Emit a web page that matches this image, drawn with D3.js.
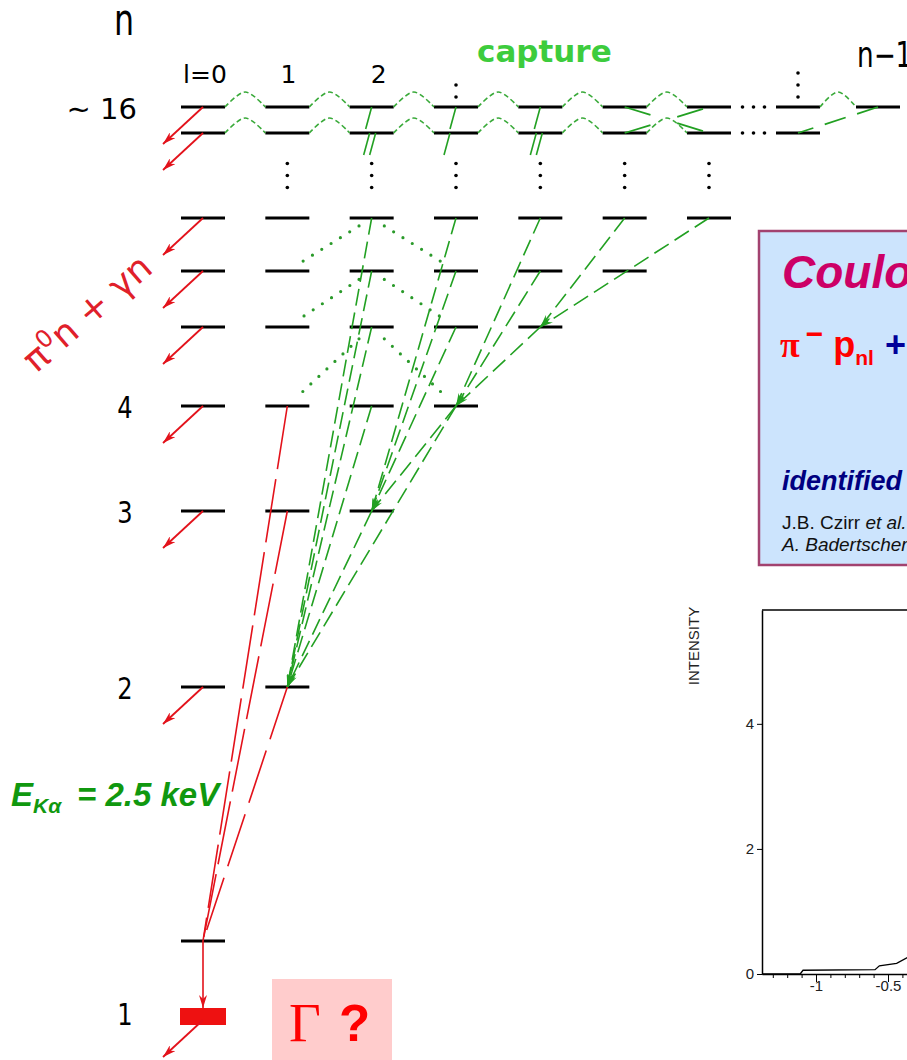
<!DOCTYPE html>
<html>
<head>
<meta charset="utf-8">
<script src="https://cdn.jsdelivr.net/npm/d3@7"></script>
<style>
html, body { margin: 0; padding: 0; background: #fff; overflow: hidden; }
svg { display: block; }
</style>
</head>
<body>
<div id="chart"></div>
<script>
// rows of the level scheme (principal quantum number n) and highest l column drawn
// (column 7 = "n-2", column 8 = "n-1")
var rowN = [16, 15, 7, 6, 5, 4, 3, 2, 1];
var rowTopCol = [8, 7, 6, 5, 4, 3, 2, 1, 0];
var rowLabels = ["\u223c 16", "", "", "", "", "4", "3", "2", ""];
var colLabels = ["l=0", "1", "2"];

// capture region: dashed waves between neighbouring l, [n, from column]
var waves = [[16,0],[16,1],[16,2],[16,3],[16,4],[16,5],[16,7],
             [15,0],[15,1],[15,2],[15,3],[15,4],[15,5]];
// l-changing transitions at capture [n1, l1, n2, l2]
var captureCross = [[16,5,15,6],[15,5,16,6],[16,8,15,7]];
// beginnings of the cascade below the capture levels [n, l, offset]
var captureStubs = [[16,2,0],[15,2,-2],[15,2,4],[16,3,0],[15,3,-6],[16,4,0],[15,4,-4],[15,4,2]];

// radiative cascade (green dashed) [n1, l1, n2, l2]
var cascade = [
  [7,2,2,1],[6,2,2,1],[5,2,2,1],[4,2,2,1],[3,2,2,1],
  [7,3,3,2],[6,3,3,2],[5,3,3,2],[4,3,3,2],
  [7,4,4,3],[6,4,4,3],[5,4,4,3],[4,3,2,1],
  [7,5,5,4],[7,6,5,4]
];
// Coulomb / Stark mixing (green dotted) [n1, l1, n2, l2]
var dotted = [[7,2,6,1],[7,2,6,3],[6,2,5,1],[6,2,5,3],[5,2,4,1],[5,2,4,3]];
// K x-ray lines into 1s [n, l]
var kLines = [[4,1],[3,1],[2,1]];
// strong absorption from s states
var decayRows = [16, 15, 7, 6, 5, 4, 3, 2];

// measured spectrum (right panel)
var energy = [-1.375, -1.11, -1.09, -0.59, -0.56, -0.44, -0.36];
var intensity = [0, 0, 0.06, 0.07, 0.13, 0.17, 0.27];
var yTicks = [0, 2, 4];

var W = 907, H = 1060;
var svg = d3.select("#chart").append("svg").attr("width", W).attr("height", H);
var defs = svg.append("defs");

function marker(id, color, len, wid) {
  defs.append("marker").attr("id", id)
      .attr("markerUnits", "userSpaceOnUse")
      .attr("viewBox", "0 0 " + len + " " + wid)
      .attr("refX", len).attr("refY", wid / 2)
      .attr("markerWidth", len).attr("markerHeight", wid)
      .attr("orient", "auto")
    .append("path")
      .attr("d", "M0,0L" + len + "," + wid / 2 + "L0," + wid + "L" + len * 0.3 + "," + wid / 2 + "Z")
      .attr("fill", color);
}
marker("redHead", "#e3121b", 13, 8);
marker("greenHead", "#22a022", 13, 6);

var red = "#e3121b", green = "#22a022";

var x = d3.scaleLinear().domain([0, 6, 7, 8]).range([203, 709, 798, 878]);
var y = d3.scaleLinear().domain(rowN).range([107, 133, 218, 271, 327, 406, 511, 687, 941]);
var half = 22, shift1s = 76;

// ---------- right panel: box ----------
var box = svg.append("g");
box.append("rect").attr("x", 759).attr("y", 231).attr("width", 220).attr("height", 334)
    .attr("fill", "#cce4fd").attr("stroke", "#a2426f").attr("stroke-width", 2.5);
box.append("text").attr("x", 782).attr("y", 288)
    .attr("font-family", "Liberation Sans, Arial").attr("font-weight", "bold").attr("font-style", "italic")
    .attr("font-size", 46).attr("fill", "#cc0066").text("Coulomb de-excitation");
var eq = box.append("text").attr("x", 780).attr("y", 357)
    .attr("font-family", "Liberation Sans, Arial").attr("font-weight", "bold").attr("font-size", 36);
eq.append("tspan").attr("font-family", "Liberation Serif").attr("fill", "#ff0000").text("\u03c0");
eq.append("tspan").attr("dy", -13).attr("dx", 6).attr("font-size", 30).attr("fill", "#ff0000").text("\u2212");
eq.append("tspan").attr("dy", 13).attr("dx", 10).attr("fill", "#ff0000").text("p");
eq.append("tspan").attr("dy", 8).attr("font-size", 21).attr("fill", "#ff0000").text("nl");
eq.append("tspan").attr("dy", -8).attr("dx", 11).attr("fill", "#000099").text("+ p");
box.append("text").attr("x", 782).attr("y", 490)
    .attr("font-family", "Liberation Sans, Arial").attr("font-weight", "bold").attr("font-style", "italic")
    .attr("font-size", 27).attr("fill", "#000080").text("identified by time-of-flight");
var r1 = box.append("text").attr("x", 782).attr("y", 529)
    .attr("font-family", "Liberation Sans, Arial").attr("font-size", 19).attr("fill", "#111");
r1.append("tspan").text("J.B. Czirr ");
r1.append("tspan").attr("font-style", "italic").text("et al.");
box.append("text").attr("x", 782).attr("y", 551)
    .attr("font-family", "Liberation Sans, Arial").attr("font-style", "italic")
    .attr("font-size", 19).attr("fill", "#111").text("A. Badertscher et al.");

// ---------- right panel: intensity plot ----------
var xE = d3.scaleLinear().domain([-1.375, 0.5]).range([762, 1032]);
var yI = d3.scaleLinear().domain([0, 5.82]).range([974, 610]);
var plot = svg.append("g");
plot.append("line").attr("x1", xE(-1.375)).attr("x2", xE(0.5))
    .attr("y1", yI(5.82)).attr("y2", yI(5.82)).attr("stroke", "#000").attr("stroke-width", 1.5);
var xAx = plot.append("g").attr("transform", "translate(0," + yI(0) + ")")
    .call(d3.axisBottom(xE).tickValues(d3.range(-13, 6).map(function(d) { return d / 10; }))
      .tickSize(4).tickSizeOuter(0).tickPadding(2)
      .tickFormat(function(d) { return Math.abs(d + 1) < 1e-9 ? "-1" : Math.abs(d + 0.5) < 1e-9 ? "-0.5" : ""; }));
xAx.selectAll(".tick line").filter(function(d) { return Math.abs(d * 2 - Math.round(d * 2)) < 1e-9; }).attr("y2", 8);
var yAx = plot.append("g").attr("transform", "translate(" + xE(-1.375) + ",0)")
    .call(d3.axisLeft(yI).tickValues(yTicks).tickSize(5).tickSizeOuter(0).tickPadding(3)
      .tickFormat(d3.format("d")));
[xAx, yAx].forEach(function(g) {
  g.attr("font-family", "Liberation Sans, Arial").attr("font-size", 15);
  g.select(".domain").attr("stroke-width", 1.5);
  g.selectAll("text").attr("fill", "#222");
});
plot.append("path")
    .attr("d", d3.line().x(function(d, i) { return xE(energy[i]); }).y(function(d) { return yI(d); })(intensity))
    .attr("fill", "none").attr("stroke", "#000").attr("stroke-width", 1.3);
plot.append("text").attr("transform", "translate(699,646) rotate(-90)")
    .attr("text-anchor", "middle").attr("font-family", "Liberation Sans, Arial")
    .attr("font-size", 15).attr("fill", "#222").text("INTENSITY");

// ---------- level scheme ----------
var levels = [];
rowN.forEach(function(n, i) {
  d3.range(rowTopCol[i] + 1).forEach(function(l) { levels.push({n: n, l: l}); });
});
svg.append("g").selectAll("line").data(levels).join("line")
    .attr("x1", function(d) { return x(d.l) - half; }).attr("x2", function(d) { return x(d.l) + half; })
    .attr("y1", function(d) { return y(d.n); }).attr("y2", function(d) { return y(d.n); })
    .attr("stroke", "#000").attr("stroke-width", 3);

// shifted and broadened 1s level
svg.append("rect").attr("x", x(0) - half - 1).attr("y", y(1) + shift1s - 9)
    .attr("width", 2 * half + 2).attr("height", 17).attr("fill", "#ee1111");

// ellipses
var dots = [];
d3.range(1, 7).forEach(function(l) { [-12, 0, 12].forEach(function(o) { dots.push([x(l), (y(15) + y(7)) / 2 + o]); }); });
[-22, -10].forEach(function(o) { dots.push([x(3), y(16) + o]); });
[-34, -22, -10].forEach(function(o) { dots.push([x(7), y(16) + o]); });
[16, 15].forEach(function(n) { [-11, 0, 11].forEach(function(o) { dots.push([x(6.5) + o, y(n)]); }); });
svg.append("g").selectAll("circle").data(dots).join("circle")
    .attr("cx", function(d) { return d[0]; }).attr("cy", function(d) { return d[1]; })
    .attr("r", 1.8).attr("fill", "#000");

// capture waves
var waveLine = d3.line().curve(d3.curveCardinal);
svg.append("g").selectAll("path").data(waves).join("path")
    .attr("d", function(d) {
      var x0 = x(d[1]) + half, x1 = x(d[1] + 1) - half, yy = y(d[0]);
      return waveLine([[x0, yy], [(x0 + x1) / 2, yy - 15], [x1, yy]]);
    })
    .attr("fill", "none").attr("stroke", "#3aaa3a").attr("stroke-width", 1.6)
    .attr("stroke-dasharray", "5,3");

svg.append("g").selectAll("line").data(captureCross).join("line")
    .attr("x1", function(d) { return x(d[1]); }).attr("y1", function(d) { return y(d[0]); })
    .attr("x2", function(d) { return x(d[3]); }).attr("y2", function(d) { return y(d[2]); })
    .attr("stroke", green).attr("stroke-width", 1.8)
    .attr("stroke-dasharray", function(d) { return d[1] === 8 ? "22,12" : "27,28"; });

svg.append("g").selectAll("line").data(captureStubs).join("line")
    .attr("x1", function(d) { return x(d[1]) + d[2]; }).attr("y1", function(d) { return y(d[0]); })
    .attr("x2", function(d) { return x(d[1]) + d[2] - 6; }).attr("y2", function(d) { return y(d[0]) + 22; })
    .attr("stroke", green).attr("stroke-width", 1.6);

// cascade
svg.append("g").selectAll("line").data(cascade).join("line")
    .attr("x1", function(d) { return x(d[1]); }).attr("y1", function(d) { return y(d[0]); })
    .attr("x2", function(d) { return x(d[3]); }).attr("y2", function(d) { return y(d[2]); })
    .attr("stroke", green).attr("stroke-width", 1.6).attr("stroke-dasharray", "17,7")
    .attr("marker-end", "url(#greenHead)");

svg.append("g").selectAll("line").data(dotted).join("line")
    .attr("x1", function(d) { return d3.interpolate(x(d[1]), x(d[3]))(0.15); })
    .attr("y1", function(d) { return d3.interpolate(y(d[0]), y(d[2]))(0.15); })
    .attr("x2", function(d) { return d3.interpolate(x(d[1]), x(d[3]))(0.85); })
    .attr("y2", function(d) { return d3.interpolate(y(d[0]), y(d[2]))(0.85); })
    .attr("stroke", "#2a9a2a").attr("stroke-width", 3.2).attr("stroke-linecap", "round")
    .attr("stroke-dasharray", "0,11");

// K x-rays
svg.append("g").selectAll("line").data(kLines).join("line")
    .attr("x1", function(d) { return x(d[1]); }).attr("y1", function(d) { return y(d[0]); })
    .attr("x2", x(0)).attr("y2", y(1))
    .attr("stroke", red).attr("stroke-width", 1.6)
    .attr("stroke-dasharray", function(d) { return d[0] === 2 ? "55,12" : "64,10"; });
svg.append("line").attr("x1", x(0)).attr("y1", y(1)).attr("x2", x(0)).attr("y2", y(1) + shift1s - 9)
    .attr("stroke", red).attr("stroke-width", 1.6).attr("marker-end", "url(#redHead)");

// absorption arrows
var decayY = decayRows.map(function(n) { return y(n); }).concat([y(1) + shift1s + 3]);
svg.append("g").selectAll("line").data(decayY).join("line")
    .attr("x1", x(0)).attr("y1", function(d) { return d; })
    .attr("x2", x(0) - 40).attr("y2", function(d) { return d + 37; })
    .attr("stroke", red).attr("stroke-width", 1.8).attr("marker-end", "url(#redHead)");

// ---------- labels ----------
svg.append("text").attr("transform", "translate(124,35) scale(0.72,1)").attr("text-anchor", "middle")
    .attr("font-family", "DejaVu Sans").attr("font-size", 44).text("n");
svg.append("text").attr("transform", "translate(857,67) scale(0.75,1)")
    .attr("font-family", "DejaVu Sans").attr("font-size", 35).text("n\u22121");
svg.append("g").selectAll("text").data(colLabels).join("text")
    .attr("x", function(d, i) { return x(i) + [2, 1, 7][i]; }).attr("y", 83)
    .attr("text-anchor", "middle").attr("font-family", "DejaVu Sans").attr("font-size", 25)
    .text(function(d) { return d; });
svg.append("g").selectAll("text").data(rowLabels).join("text")
    .attr("transform", function(d, i) {
      return "translate(" + (i === 0 ? 137 : 125) + "," + (y(rowN[i]) + 11.5) + ")" + (i === 0 ? "" : " scale(0.78,1)");
    })
    .attr("text-anchor", function(d, i) { return i === 0 ? "end" : "middle"; })
    .attr("font-family", "DejaVu Sans").attr("font-size", function(d, i) { return i === 0 ? 29 : 31; })
    .text(function(d) { return d; });
svg.append("text").attr("transform", "translate(125," + (y(1) + shift1s + 8) + ") scale(0.78,1)")
    .attr("text-anchor", "middle").attr("font-family", "DejaVu Sans").attr("font-size", 31).text("1");

svg.append("text").attr("x", 477).attr("y", 62).attr("font-family", "DejaVu Sans")
    .attr("font-weight", "bold").attr("font-size", 31).attr("fill", "#3dcc3d").text("capture");

var pg = svg.append("text").attr("transform", "translate(36,374) rotate(-41)")
    .attr("font-family", "DejaVu Sans").attr("font-size", 36).attr("fill", "#e0202a");
pg.append("tspan").text("\u03c0");
pg.append("tspan").attr("dy", -13).attr("font-size", 24).text("0");
pg.append("tspan").attr("dy", 13).text("n + \u03b3n");

var ek = svg.append("text").attr("x", 11).attr("y", 806)
    .attr("font-family", "Liberation Sans, Arial").attr("font-weight", "bold").attr("font-style", "italic")
    .attr("font-size", 33).attr("fill", "#10980f");
ek.append("tspan").text("E");
ek.append("tspan").attr("dy", 7).attr("font-size", 21).text("K\u03b1");
ek.append("tspan").attr("x", 77).attr("dy", -7).text("= 2.5 keV");

svg.append("rect").attr("x", 272).attr("y", 979).attr("width", 120).attr("height", 90).attr("fill", "#ffcccc");
var gq = svg.append("text").attr("x", 289).attr("y", 1041).attr("fill", "#ff0000");
gq.append("tspan").attr("font-family", "Liberation Serif").attr("font-size", 55).text("\u0393");
gq.append("tspan").attr("x", 339).attr("font-family", "Liberation Sans, Arial").attr("font-weight", "bold")
    .attr("font-size", 51).text("?");
</script>
</body>
</html>
